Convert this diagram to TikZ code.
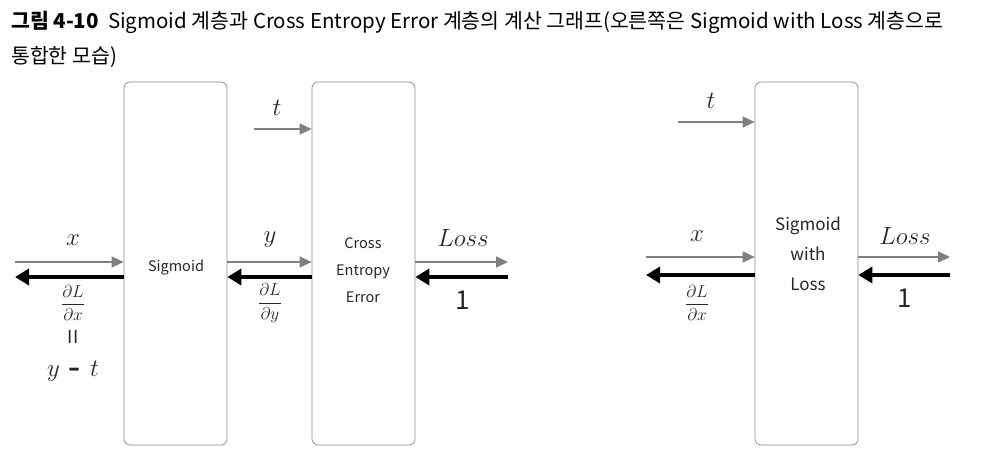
\documentclass[tikz,border=0pt]{standalone}
\usepackage{fontspec}
\usepackage{amsmath}
\newfontfamily\kr{Noto Sans CJK KR}
\usetikzlibrary{arrows.meta}
\tikzset{
  box/.style={draw=black!45, line width=0.7pt, rounded corners=6pt, minimum width=103pt, minimum height=363pt, inner sep=0pt},
  fwd/.style={draw=black!50, line width=1.6pt, -{Triangle[length=12pt,width=11pt]}},
  bwd/.style={draw=black, line width=3.6pt, -{Triangle[length=14pt,width=16pt]}},
  boxtxt/.style={font=\kr\fontsize{14.5}{27}\selectfont, align=center, text=black!85},
  mlab/.style={font=\fontsize{31}{34}\selectfont, text=black!85},
  losslab/.style={font=\fontsize{26}{30}\selectfont, text=black!85},
  flab/.style={font=\fontsize{19}{22}\selectfont, text=black!85},
  onelab/.style={font=\kr\fontsize{26}{30}\selectfont, text=black!85}
}
\begin{document}
\begin{tikzpicture}[x=1pt,y=-1pt]
\useasboundingbox[fill=white] (0,0) rectangle (992,462);
% title
\node[anchor=base west, inner sep=0pt, font=\kr\fontsize{20.5}{24}\selectfont] (title1) at (11,29)
  {\textbf{그림 4-10}\ \ Sigmoid 계층과 Cross Entropy Error 계층의 계산 그래프(오른쪽은 Sigmoid with Loss 계층으로};
\node[anchor=base west, inner sep=0pt, font=\kr\fontsize{20.5}{24}\selectfont] (title2) at (11,64) {통합한 모습)};
% boxes
\node[box] (sig) at (175.5,263.5) {};
\node[box] (cee) at (363.5,263.5) {};
\node[box] (swl) at (806.5,263.5) {};
\node[boxtxt] (sigt) at (176,268) {Sigmoid};
\node[boxtxt] (ceet) at (363,270) {Cross\\Entropy\\Error};
\node[boxtxt, font=\kr\fontsize{17}{30}\selectfont] (swlt) at (808,254) {Sigmoid\\with\\Loss};
% coordinates
\coordinate (xin) at (15,262);
\coordinate (xout) at (15,277);
\coordinate (tin) at (254,129);
\coordinate (lossout) at (508,262);
\coordinate (onein) at (508,277);
\coordinate (rtin) at (678,122);
\coordinate (rxin) at (646,257);
\coordinate (rxout) at (646,275);
\coordinate (rlossout) at (950,257);
\coordinate (rone) at (950,275);
% left graph arrows
\draw[fwd] (xin) -- (xin -| sig.west);
\draw[bwd] (xout -| sig.west) -- (xout);
\draw[fwd] (sig.east |- xin) -- (cee.west |- xin);
\draw[bwd] (cee.west |- xout) -- (sig.east |- xout);
\draw[fwd] (tin) -- (tin -| cee.west);
\draw[fwd] (cee.east |- lossout) -- (lossout);
\draw[bwd] (onein) -- (onein -| cee.east);
% right graph arrows
\draw[fwd] (rtin) -- (rtin -| swl.west);
\draw[fwd] (rxin) -- (rxin -| swl.west);
\draw[bwd] (rxout -| swl.west) -- (rxout);
\draw[fwd] (swl.east |- rlossout) -- (rlossout);
\draw[bwd] (rone) -- (rone -| swl.east);
% labels left
\node[mlab] (lx) at (73,240) {$x$};
\node[flab] (ldx) at (73,303) {$\dfrac{\partial L}{\partial x}$};
\node[font=\kr\fontsize{18}{20}\selectfont, text=black!85] (leq) at (73,337) {II};
\node[mlab] (lyt) at (73,371) {$y\ \textbf{-}\ t$};
\node[mlab] (ly) at (270,240) {$y$};
\node[flab] (ldy) at (270,303) {$\dfrac{\partial L}{\partial y}$};
\node[mlab] (lt) at (277,108) {$t$};
\node[losslab] (lloss) at (463,238) {$Loss$};
\node[onelab] (lone) at (463,300) {1};
% labels right
\node[mlab] (rt) at (711,101) {$t$};
\node[mlab] (rx) at (697,236) {$x$};
\node[flab] (rdx) at (697,303) {$\dfrac{\partial L}{\partial x}$};
\node[losslab] (rloss) at (905,236) {$Loss$};
\node[onelab] (rone1) at (905,298) {1};
\end{tikzpicture}
\end{document}
